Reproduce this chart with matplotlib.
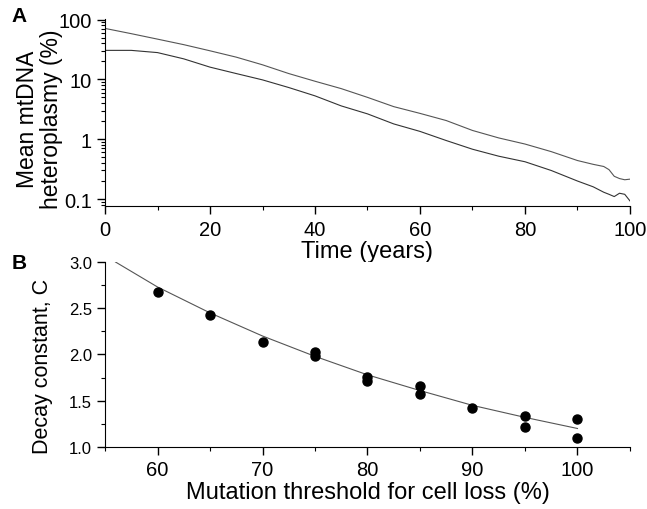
import numpy as np
import matplotlib.pyplot as plt
from matplotlib.ticker import LogLocator, NullFormatter, MultipleLocator

plt.rcParams['font.family'] = ['Liberation Sans', 'DejaVu Sans']

# ── Panel A data ─────────────────────────────────────────
time_years = [0, 5, 10, 15, 20, 25, 30, 35, 40, 45, 50, 55, 60, 65, 70,
              75, 80, 85, 90, 93, 95, 96, 97, 98, 99, 100]
het_high = [71, 58, 47, 38, 30, 23.5, 17.5, 12.5, 9.3, 7.0, 5.0, 3.5, 2.7,
            2.05, 1.4, 1.05, 0.83, 0.62, 0.44, 0.38, 0.35, 0.31, 0.24, 0.22,
            0.21, 0.215]
het_low = [30.5, 30.5, 28, 22, 16, 12.5, 9.8, 7.3, 5.3, 3.6, 2.65, 1.8, 1.35,
           0.95, 0.68, 0.52, 0.42, 0.30, 0.20, 0.16, 0.13, 0.12, 0.11, 0.125,
           0.12, 0.093]

# ── Panel B data ─────────────────────────────────────────
threshold = [60, 65, 70, 75, 75, 80, 80, 85, 85, 90, 95, 95, 100, 100]
decay_c = [2.68, 2.43, 2.14, 2.03, 1.98, 1.76, 1.71, 1.66, 1.57, 1.42,
           1.33, 1.22, 1.30, 1.10]
fit_x = [56, 60, 65, 70, 75, 80, 85, 90, 95, 100]
fit_c = [3.0, 2.73, 2.45, 2.20, 1.98, 1.78, 1.61, 1.45, 1.32, 1.20]

fig = plt.figure(figsize=(6.47, 5.10), dpi=100)

# ── Panel A ──────────────────────────────────────────────
ax1 = fig.add_axes([0.1623, 0.5941, 0.8114, 0.3667])
ax1.plot(time_years, het_high, color="#555555", lw=0.8)
ax1.plot(time_years, het_low, color="#333333", lw=0.8)
ax1.set_yscale("log")
ax1.set_xlim(0, 100)
ax1.set_ylim(0.0765, 102)
ax1.set_yticks([0.1, 1, 10, 100])
ax1.set_yticklabels(["0.1", "1", "10", "100"])
ax1.yaxis.set_minor_locator(LogLocator(base=10, subs=np.arange(2, 10)))
ax1.yaxis.set_minor_formatter(NullFormatter())
ax1.set_xticks([0, 20, 40, 60, 80, 100])
ax1.xaxis.set_minor_locator(MultipleLocator(10))
ax1.tick_params(axis="both", which="major", labelsize=14.5, length=6, width=1)
ax1.tick_params(axis="x", which="major", pad=4)
ax1.tick_params(axis="both", which="minor", length=3, width=0.8)
ax1.set_xlabel("Time (years)", fontsize=17, labelpad=1)
ax1.set_ylabel("Mean mtDNA\nheteroplasmy (%)", fontsize=16.5,
               linespacing=1.05)
ax1.yaxis.set_label_coords(-0.08, 0.47)
for s in ["top", "right"]:
    ax1.spines[s].set_visible(False)
fig.text(0.018, 0.968, "A", fontsize=15, fontweight="bold", va="center")

# ── Panel B ──────────────────────────────────────────────
ax2 = fig.add_axes([0.1623, 0.1216, 0.8114, 0.3627])
ax2.plot(fit_x, fit_c, color="#555555", lw=0.8)
ax2.plot(threshold, decay_c, "o", color="black", ms=6.5)
ax2.set_xlim(55, 105)
ax2.set_ylim(1.0, 3.0)
ax2.set_xticks([60, 70, 80, 90, 100])
ax2.xaxis.set_minor_locator(MultipleLocator(5))
ax2.set_yticks([1.0, 1.5, 2.0, 2.5, 3.0])
ax2.set_yticklabels(["1.0", "1.5", "2.0", "2.5", "3.0"])
ax2.yaxis.set_minor_locator(MultipleLocator(0.25))
ax2.tick_params(axis="y", which="major", labelsize=12, length=6, width=1)
ax2.tick_params(axis="x", which="major", labelsize=14.5, length=6, width=1)
ax2.tick_params(axis="both", which="minor", length=3, width=0.8)
ax2.set_xlabel("Mutation threshold for cell loss (%)", fontsize=17, labelpad=1)
ax2.set_ylabel("Decay constant, C", fontsize=15.5)
ax2.yaxis.set_label_coords(-0.099, 0.44)
for s in ["top", "right"]:
    ax2.spines[s].set_visible(False)
fig.text(0.018, 0.484, "B", fontsize=15, fontweight="bold", va="center")

plt.savefig("out.png", dpi=100)
